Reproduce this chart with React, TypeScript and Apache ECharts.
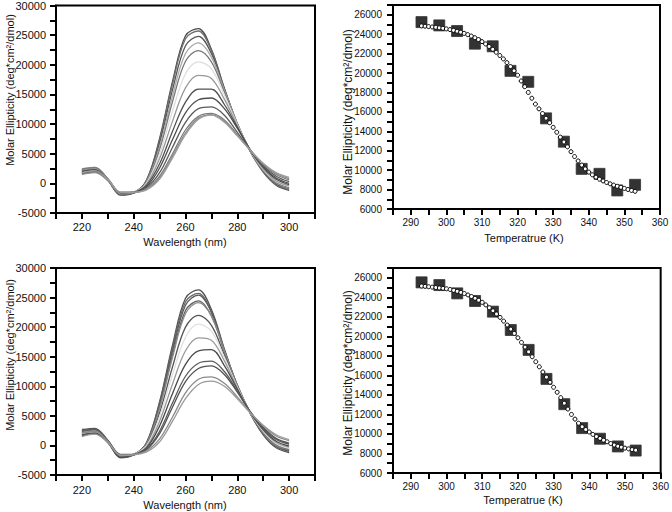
import React, { useEffect, useRef } from "react";
import * as echarts from "echarts";

// ---------- data ----------
const wavelengths = [220, 225, 230, 235, 240, 245, 250, 255, 260, 265, 270, 275, 280, 285, 290, 295, 300];

const topSpectra = [
  [2000, 2400, 600, -1800, -1600, 600, 7600, 17200, 24900, 26100, 22600, 16000, 10000, 5400, 1900, -300, -1200],
  [2300, 2600, 700, -1900, -1600, 500, 7300, 16800, 24400, 25700, 22400, 16000, 10000, 5400, 2000, -200, -1100],
  [1800, 2200, 500, -2000, -1600, 400, 6800, 15800, 23200, 24800, 21900, 15900, 10100, 5500, 2100, 0, -900],
  [2500, 2700, 800, -1700, -1500, 300, 6200, 14800, 21900, 23700, 21300, 15700, 10100, 5500, 2200, 100, -800],
  [2100, 2400, 600, -1800, -1500, 200, 5700, 13800, 20600, 22400, 20500, 15400, 10000, 5500, 2300, 200, -700],
  [1900, 2200, 600, -1700, -1500, 100, 5000, 12200, 18500, 20500, 19300, 14900, 9900, 5500, 2400, 300, -500],
  [2200, 2500, 700, -1600, -1500, -100, 4200, 10500, 16100, 18200, 17700, 14200, 9700, 5500, 2500, 400, -400],
  [1700, 2000, 500, -1900, -1600, -300, 3300, 8800, 13700, 15900, 15900, 13300, 9500, 5600, 2700, 700, -200],
  [2000, 2300, 700, -1600, -1500, -500, 2600, 7400, 11900, 14100, 14400, 12600, 9300, 5700, 2800, 900, 0],
  [1600, 2000, 600, -1700, -1600, -700, 1800, 6100, 10300, 12600, 12900, 11500, 8600, 5600, 3000, 1200, 300],
  [2400, 2700, 800, -1500, -1500, -900, 1200, 5000, 9000, 11300, 11800, 10700, 8200, 5600, 3200, 1500, 600],
  [1500, 1800, 500, -1800, -1600, -1000, 900, 4600, 8500, 11000, 11600, 10500, 8100, 5600, 3300, 1700, 800],
  [1800, 2100, 700, -1500, -1500, -1100, 700, 4300, 8200, 10800, 11500, 10300, 8000, 5600, 3400, 1800, 1000],
];
const topColors = ["#4a4a4a", "#707070", "#555555", "#aaaaaa", "#7a7a7a", "#dedede", "#9a9a9a", "#505050", "#4d4d4d", "#5a5a5a", "#7c7c7c", "#8c8c8c", "#9c9c9c"];

const bottomSpectra = [
  [2100, 2500, 600, -1900, -1600, 500, 7400, 17000, 24900, 26300, 23000, 16300, 10100, 5400, 1800, -400, -1200],
  [2500, 2800, 800, -1700, -1500, 500, 7200, 16500, 24300, 25700, 22600, 16100, 10100, 5400, 1900, -200, -1000],
  [1800, 2200, 500, -2100, -1600, 400, 6900, 16000, 23700, 25400, 22500, 16100, 10200, 5500, 2000, -100, -900],
  [2300, 2600, 700, -1800, -1500, 300, 6500, 15300, 22800, 24450, 21900, 15900, 10100, 5500, 2100, 0, -800],
  [2000, 2300, 600, -1900, -1600, 300, 6300, 14900, 22300, 24150, 21900, 16000, 10200, 5500, 2100, 0, -700],
  [2700, 2900, 900, -1600, -1500, 100, 5500, 13300, 20000, 22000, 20300, 15300, 10000, 5500, 2300, 200, -600],
  [1900, 2200, 600, -1800, -1500, 0, 4900, 12000, 18300, 20500, 19300, 14900, 9900, 5500, 2400, 300, -500],
  [2200, 2500, 700, -1700, -1500, -200, 4100, 10400, 16000, 18200, 17800, 14300, 9700, 5600, 2600, 500, -300],
  [1600, 2000, 500, -2000, -1600, -400, 3300, 8800, 13700, 16000, 16200, 13500, 9500, 5600, 2700, 700, -100],
  [2400, 2700, 800, -1500, -1500, -600, 2400, 7200, 11700, 13900, 14250, 12500, 9200, 5700, 2900, 1000, 200],
  [1800, 2100, 600, -1800, -1600, -700, 2000, 6500, 10800, 13000, 13450, 12000, 9000, 5700, 3100, 1200, 400],
  [2100, 2400, 700, -1600, -1500, -900, 1100, 4800, 8900, 11200, 11600, 10500, 8200, 5600, 3300, 1600, 800],
  [1500, 1900, 500, -1700, -1600, -1100, 600, 4100, 7900, 10300, 10870, 10000, 7900, 5500, 3400, 1800, 1000],
];
const bottomColors = ["#505050", "#6a6a6a", "#5a5a5a", "#606060", "#8a8a8a", "#555555", "#e0e0e0", "#9a9a9a", "#4a4a4a", "#5c5c5c", "#525252", "#8a8a8a", "#9a9a9a"];

const temperatures = [293, 298, 303, 308, 313, 318, 323, 328, 333, 338, 343, 348, 353];
const topMelt = [25240, 24900, 24320, 23020, 22750, 20220, 19090, 15330, 12930, 10130, 9620, 7910, 8490];
const bottomMelt = [25530, 25250, 24400, 23620, 22530, 20650, 18610, 15640, 13050, 10600, 9510, 8720, 8300];

const fitTemperatures = [
  293, 294, 295, 296, 297, 298, 299, 300, 301, 302, 303, 304, 305, 306, 307, 308, 309, 310, 311, 312,
  313, 314, 315, 316, 317, 318, 319, 320, 321, 322, 323, 324, 325, 326, 327, 328, 329, 330, 331, 332,
  333, 334, 335, 336, 337, 338, 339, 340, 341, 342, 343, 344, 345, 346, 347, 348, 349, 350, 351, 352, 353,
];
const topFit = [
  24850, 24820, 24780, 24740, 24700, 24650, 24600, 24540, 24470, 24390, 24300, 24200, 24080, 23950, 23800, 23630, 23440, 23230, 22990, 22730,
  22440, 22130, 21800, 21450, 21070, 20660, 20230, 19770, 19180, 18590, 18000, 17400, 16800, 16310, 15830, 15350, 14880, 14400, 13900, 13400,
  12900, 12400, 11900, 11400, 10950, 10520, 10130, 9800, 9520, 9280, 9070, 8890, 8730, 8590, 8460, 8340, 8230, 8120, 8010, 7910, 7820,
];
const bottomFit = [
  25150, 25120, 25080, 25040, 25000, 24960, 24920, 24870, 24800, 24710, 24610, 24500, 24380, 24240, 24080, 23900, 23700, 23480, 23220, 22930,
  22620, 22290, 21940, 21560, 21160, 20740, 20300, 19850, 19380, 18900, 18410, 17910, 17400, 16880, 16350, 15820, 15300, 14780, 14270, 13720,
  13150, 12550, 12000, 11520, 11100, 10740, 10450, 10200, 9950, 9730, 9540, 9360, 9200, 9020, 8870, 8740, 8640, 8550, 8470, 8400, 8340,
];

const wavelengthLabels = [220, 240, 260, 280, 300];
const spectraValueLabels = [-5000, 0, 5000, 10000, 15000, 20000, 25000, 30000];
const temperatureLabels = [290, 300, 310, 320, 330, 340, 350, 360];
const meltValueLabels = [6000, 8000, 10000, 12000, 14000, 16000, 18000, 20000, 22000, 24000, 26000];

const FONT = "'Liberation Sans', Arial, Helvetica, sans-serif";
const Y_TITLE = "Molar Ellipticity (deg*cm\u00B2/dmol)";

function axisBase(labels: number[], fontSize: number, margin: number) {
  return {
    type: "value" as const,
    axisLine: { show: true, onZero: false, lineStyle: { color: "#000", width: 2 } },
    axisTick: { show: true, length: 6, lineStyle: { color: "#000", width: 2 } },
    splitLine: { show: false },
    axisLabel: {
      color: "#111",
      fontSize,
      fontFamily: FONT,
      margin,
      formatter: (v: number) => (labels.includes(v) ? String(v) : ""),
    },
  };
}

export default function App() {
  const ref = useRef<HTMLDivElement>(null);
  useEffect(() => {
    if (!ref.current) return;
    const chart = echarts.init(ref.current, undefined, { renderer: "svg" });
    const grids = [
      { left: 56, top: 5, width: 259, height: 208 },
      { left: 393, top: 5, width: 267, height: 204 },
      { left: 56, top: 268, width: 259, height: 207 },
      { left: 393, top: 268, width: 268, height: 205 },
    ].map((g) => ({ ...g, show: true, borderColor: "#000", borderWidth: 2, backgroundColor: "transparent" }));

    const xAxis = [
      { ...axisBase(wavelengthLabels, 11, 8), gridIndex: 0, min: 210, max: 310, interval: 10 },
      { ...axisBase(temperatureLabels, 10, 8), gridIndex: 1, min: 285, max: 360, interval: 5 },
      { ...axisBase(wavelengthLabels, 11, 9), gridIndex: 2, min: 210, max: 310, interval: 10 },
      { ...axisBase(temperatureLabels, 10, 8), gridIndex: 3, min: 285, max: 360, interval: 5 },
    ];
    const yAxis = [
      { ...axisBase(spectraValueLabels, 11, 10), gridIndex: 0, min: -5000, max: 30000, interval: 2500 },
      { ...axisBase(meltValueLabels, 10, 11), gridIndex: 1, min: 6000, max: 27000, interval: 1000 },
      { ...axisBase(spectraValueLabels, 11, 10), gridIndex: 2, min: -5000, max: 30000, interval: 2500 },
      { ...axisBase(meltValueLabels, 10, 11), gridIndex: 3, min: 6000, max: 27000, interval: 1000 },
    ];

    const series: any[] = [];
    const addSpectra = (set: number[][], colors: string[], idx: number) => {
      set.forEach((curve, i) => {
        series.push({
          type: "line",
          xAxisIndex: idx,
          yAxisIndex: idx,
          data: wavelengths.map((w, j) => [w, curve[j]]),
          smooth: 0.35,
          showSymbol: false,
          silent: true,
          lineStyle: { width: 1.3, color: colors[i] },
        });
      });
    };
    addSpectra(topSpectra, topColors, 0);
    addSpectra(bottomSpectra, bottomColors, 2);

    const addMelt = (melt: number[], fit: number[], idx: number) => {
      series.push({
        type: "scatter",
        xAxisIndex: idx,
        yAxisIndex: idx,
        data: temperatures.map((t, j) => [t, melt[j]]),
        symbol: "rect",
        symbolSize: 11,
        silent: true,
        itemStyle: { color: "#000", borderColor: "#333", borderWidth: 1 },
        z: 2,
      });
      series.push({
        type: "line",
        xAxisIndex: idx,
        yAxisIndex: idx,
        data: fitTemperatures.map((t, j) => [t, fit[j]]),
        symbol: "circle",
        symbolSize: 4,
        showSymbol: true,
        silent: true,
        lineStyle: { width: 0, opacity: 0 },
        itemStyle: { color: "#fff", borderColor: "#000", borderWidth: 1 },
        z: 3,
      });
    };
    addMelt(topMelt, topFit, 1);
    addMelt(bottomMelt, bottomFit, 3);

    const title = (text: string, x: number, y: number, size: number, rotate: boolean) => ({
      type: "text",
      x,
      y,
      rotation: rotate ? Math.PI / 2 : 0,
      silent: true,
      style: {
        text,
        fontSize: size,
        fontFamily: FONT,
        fill: "#111",
        textAlign: "center",
        textVerticalAlign: "middle",
      },
    });

    chart.setOption({
      animation: false,
      backgroundColor: "#fff",
      grid: grids,
      xAxis,
      yAxis,
      series,
      graphic: [
        title(Y_TITLE, 10, 90, 11, true),
        title(Y_TITLE, 348, 112, 12, true),
        title(Y_TITLE, 9.5, 355, 11, true),
        title(Y_TITLE, 348, 373, 12, true),
        title("Wavelength (nm)", 185, 241.5, 11, false),
        title("Temperatrue (K)", 524, 237.5, 11, false),
        title("Wavelength (nm)", 185, 505, 11, false),
        title("Temperatrue (K)", 523, 500, 11, false),
      ],
    });
    return () => chart.dispose();
  }, []);
  return (
    <div
      ref={ref}
      style={{ position: "fixed", left: 0, top: 0, width: 672, height: 512, background: "#fff" }}
    />
  );
}
